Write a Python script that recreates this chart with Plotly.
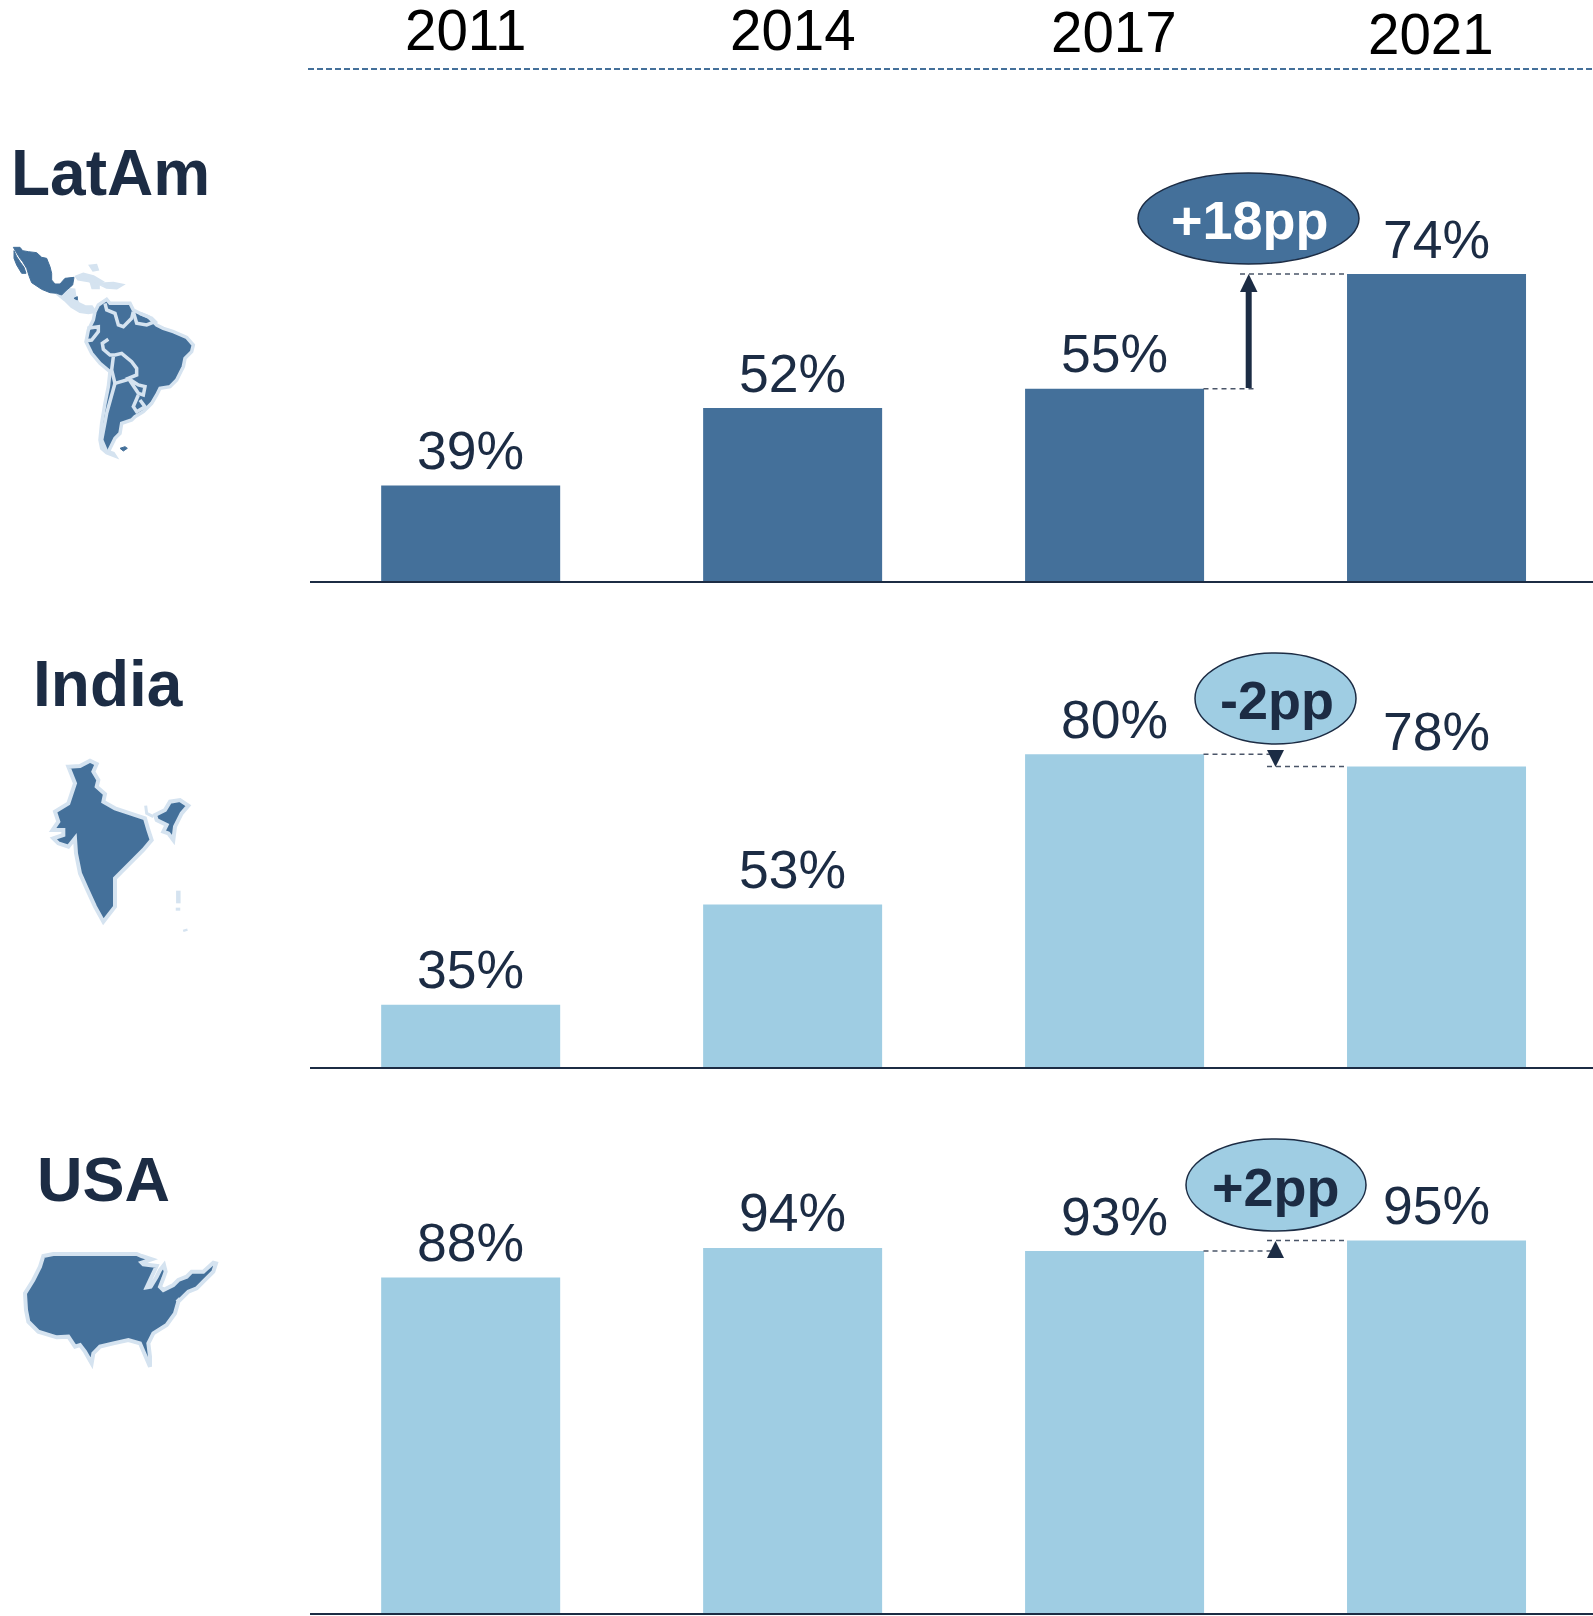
import plotly.graph_objects as go

W, H = 1593, 1616
years = ["2011", "2014", "2017", "2021"]
latam = [39, 51.8, 55, 74]
india = [35, 53, 80, 77.8]
usa = [88, 93.6, 93, 95]

DARK = "#1C2C44"
BLUE = "#44709A"
LIGHT = "#9FCDE3"
PALE = "#D5E3F0"
FONT = "Liberation Sans, Arial, sans-serif"


def X(p):
    return p / W


def Y(p):
    return 1 - p / H


panels = [
    dict(name="LatAm", vals=latam, color=BLUE, top=117, bottom=581, base=23.17),
    dict(name="India", vals=india, color=LIGHT, top=643, bottom=1067.3, base=23.74),
    dict(name="USA", vals=usa, color=LIGHT, top=1214, bottom=1613, base=24.71),
]

fig = go.Figure()
layout = {}
shapes = []
annots = []

for i, p in enumerate(panels):
    s = "" if i == 0 else str(i + 1)
    fig.add_trace(go.Bar(
        x=years, y=p["vals"], xaxis="x" + s, yaxis="y" + s,
        marker=dict(color=p["color"], line=dict(width=0)),
        showlegend=False, hoverinfo="skip",
    ))
    for j, v in enumerate(p["vals"]):
        annots.append(dict(
            text=f"{round(v)}%", x=j, y=v, xref="x" + s, yref="y" + s,
            showarrow=False, xanchor="center", yanchor="middle", yshift=35,
            font=dict(family=FONT, size=53.5, color=DARK),
        ))
    layout["xaxis" + s] = dict(
        domain=[X(309.7), 1], range=[-0.5, 3.486], type="category",
        categoryorder="array", categoryarray=years, anchor="y" + s,
        showticklabels=False, ticks="", showgrid=False, zeroline=False,
        showline=True, linecolor=DARK, linewidth=2,
    )
    layout["yaxis" + s] = dict(
        domain=[Y(p["bottom"]), Y(p["top"])], range=[p["base"], 100],
        anchor="x" + s, visible=False, showgrid=False, zeroline=False,
    )


def text(t, x, y, size, color=DARK, bold=False, height=None):
    annots.append(dict(
        text=f"<b>{t}</b>" if bold else t, x=X(x), y=Y(y), xref="paper", yref="paper",
        showarrow=False, xanchor="center", yanchor="middle", height=height,
        font=dict(family=FONT, size=size, color=color),
    ))


# year header
year_pos = [(466, 30), (793, 30.5), (1114, 32.5), (1431, 34.5)]
for yr, (x, y) in zip(years, year_pos):
    text(yr, x, y, 56.5, color="#000000", height=56)
shapes.append(dict(type="line", xref="paper", yref="paper", x0=X(308), x1=1, y0=Y(69), y1=Y(69),
                   line=dict(color=BLUE, width=2, dash="6px,3px")))

# panel titles
text("LatAm", 110, 173, 64, bold=True)
text("India", 108, 684, 64, bold=True)
text("USA", 103.5, 1179, 63, bold=True)


def dashed(x0, x1, val, yref):
    shapes.append(dict(type="line", xref="paper", yref=yref, x0=X(x0), x1=X(x1), y0=val, y1=val,
                       line=dict(color="#4A5568", width=1.5, dash="5px,4px")))


dashed(1203.5, 1257, latam[2], "y")
dashed(1240, 1347.5, latam[3], "y")
dashed(1203.5, 1284, india[2], "y2")
dashed(1267, 1347.5, india[3], "y2")
dashed(1203.5, 1284, usa[2], "y3")
dashed(1267, 1347.5, usa[3], "y3")


def poly(points, fill=None, color=DARK, width=0):
    d = "M" + " L".join(f"{X(a):.5f},{Y(b):.5f}" for a, b in points) + (" Z" if fill else "")
    shapes.append(dict(type="path", xref="paper", yref="paper", path=d,
                       fillcolor=fill if fill else "rgba(0,0,0,0)",
                       line=dict(color=color, width=width)))


# change arrow (LatAm)
shapes.append(dict(type="line", xref="paper", yref="paper", x0=X(1248.7), x1=X(1248.7),
                   y0=Y(388), y1=Y(288), line=dict(color=DARK, width=6)))
poly([(1248.7, 274), (1257.5, 292), (1240, 292)], fill=DARK)
# change triangles
poly([(1267, 750), (1284, 750), (1275.5, 767)], fill=DARK)
poly([(1275.5, 1241), (1284, 1258), (1267, 1258)], fill=DARK)

# bubbles
for (x0, y0, x1, y1, fill, label, col) in [
    (1138, 173, 1359, 264, BLUE, "+18pp", "#FFFFFF"),
    (1195, 653, 1356, 744, LIGHT, "-2pp", DARK),
    (1186, 1139, 1366, 1231, LIGHT, "+2pp", DARK),
]:
    shapes.append(dict(type="circle", xref="paper", yref="paper", x0=X(x0), x1=X(x1),
                       y0=Y(y0), y1=Y(y1), fillcolor=fill, line=dict(color=DARK, width=1.5)))
    text(label, (x0 + x1) / 2 + (1 if label != "+2pp" else 0), (y0 + y1) / 2 + (2 if label == "+2pp" else 1),
         54, color=col, bold=True)


# decorative map silhouettes, traced in 3x crop coordinates
def crop(points, ox, oy):
    return [(ox + a / 3, oy + b / 3) for a, b in points]


LA = (0, 130)
mexico = [(40, 352), (60, 352), (68, 362), (85, 365), (110, 368), (125, 382), (140, 385), (150, 410), (155, 430),
          (155, 450), (165, 462), (180, 462), (195, 445), (222, 442), (218, 465), (200, 480), (185, 495),
          (170, 490), (150, 488), (125, 478), (95, 458), (88, 440), (80, 415), (68, 395), (60, 385), (52, 372)]
baja = [(42, 362), (50, 380), (62, 398), (72, 412), (78, 430), (65, 430), (50, 405), (42, 385)]
central = [(170, 490), (185, 495), (200, 478), (222, 480), (225, 500), (235, 520), (255, 530), (275, 530),
           (285, 545), (265, 548), (240, 545), (215, 530), (195, 510)]
car1 = [(230, 440), (250, 432), (280, 440), (305, 455), (290, 462), (265, 452), (235, 447)]
car2 = [(272, 408), (288, 406), (292, 418), (280, 420)]
car3 = [(275, 463), (295, 463), (295, 473), (278, 473)]
car4 = [(300, 462), (340, 460), (365, 465), (350, 474), (320, 472)]
south = [(285, 545), (295, 525), (320, 508), (330, 520), (360, 520), (390, 520), (400, 540), (420, 550),
         (445, 560), (470, 585), (490, 595), (520, 605), (560, 622), (580, 645), (575, 665), (555, 685),
         (550, 710), (530, 750), (510, 770), (480, 775), (470, 795), (455, 820), (430, 845), (405, 860),
         (395, 870), (365, 880), (360, 910), (345, 925), (335, 945), (325, 965), (340, 970), (345, 978),
         (320, 968), (305, 955), (300, 930), (305, 880), (315, 820), (325, 770), (330, 725), (300, 700),
         (275, 670), (258, 635), (265, 600), (280, 570)]
falk = [(360, 955), (375, 950), (382, 955), (370, 963)]
borders = [
    [(262, 595), (295, 590), (295, 605), (275, 630), (258, 632)],
    [(325, 628), (307, 640), (310, 658), (330, 675), (345, 675), (365, 670), (395, 695), (410, 715), (410, 735), (385, 745),
     (415, 765), (435, 770), (430, 795), (415, 790), (385, 745)],
    [(315, 520), (320, 540), (345, 550), (355, 585), (370, 590), (395, 565), (400, 545)],
    [(400, 545), (410, 580), (440, 585), (465, 575), (455, 565), (420, 550)],
    [(340, 680), (335, 720), (345, 760), (380, 750), (385, 745)],
    [(345, 760), (320, 850), (305, 930), (320, 965)],
    [(415, 795), (400, 830), (410, 845), (435, 830), (420, 810)],
]
for pts in (car1, car2, car3, car4, central):
    poly(crop(pts, *LA), fill=PALE, color=PALE, width=3)
poly(crop(south, *LA), fill=BLUE, color=PALE, width=3.5)
poly(crop(mexico, *LA), fill=BLUE, color=BLUE, width=1)
poly(crop(baja, *LA), fill=BLUE, color=BLUE, width=1)
poly(crop(falk, *LA), fill=BLUE, color=BLUE, width=1)
poly(crop([(222, 505), (232, 500), (232, 510)], *LA), fill=BLUE, color=BLUE, width=1)
for b in borders:
    poly(crop(b, *LA), color=PALE, width=3.5)

IN = (0, 640)
india_main = [(205, 380), (240, 378), (270, 362), (290, 372), (280, 395), (295, 420), (290, 440), (315, 462),
              (310, 485), (345, 505), (390, 520), (435, 535), (445, 570), (455, 600), (430, 630), (395, 665),
              (345, 715), (345, 800), (310, 845), (285, 800), (260, 745), (240, 700), (228, 640), (225, 595),
              (205, 620), (175, 610), (160, 595), (190, 585), (190, 570), (158, 570), (175, 545), (165, 515),
              (205, 490), (225, 430), (215, 405)]
india_ne = [(465, 525), (495, 510), (510, 485), (540, 480), (565, 497), (545, 520), (525, 560), (520, 600),
            (505, 580), (490, 575), (500, 555), (470, 540)]
poly(crop(india_main, *IN), fill=BLUE, color=PALE, width=4)
poly(crop(india_ne, *IN), fill=BLUE, color=PALE, width=4)
poly(crop([(535, 752), (535, 790)], *IN), color=PALE, width=4.5)
poly(crop([(534, 803), (534, 812)], *IN), color=PALE, width=4.5)
poly(crop([(555, 867), (557, 874)], *IN), color=PALE, width=4.5)
poly(crop([(437, 497), (440, 520), (460, 530)], *IN), color=PALE, width=3)

US = (0, 1130)
usa_main = [(130, 378), (160, 372), (410, 372), (425, 378), (455, 388), (425, 398), (430, 403), (470, 408), (455, 440),
            (440, 472), (452, 470), (470, 440), (480, 420), (492, 405), (497, 425), (490, 445), (480, 470),
            (490, 480), (520, 465), (535, 450), (560, 440), (575, 425), (610, 425), (640, 398),
            (648, 400), (640, 425), (610, 455), (590, 475), (565, 485), (535, 515), (525, 550), (500, 585),
            (460, 610), (445, 640), (450, 680), (450, 710), (435, 675), (420, 640), (385, 630), (340, 640),
            (300, 650), (280, 670), (275, 700), (255, 665), (240, 645), (225, 650), (205, 620), (170, 622),
            (115, 605), (85, 575), (78, 540), (75, 490), (100, 450), (120, 410)]
poly(crop(usa_main, *US), fill=BLUE, color=PALE, width=4)
poly(crop([(530, 515), (540, 505)], *US), color=PALE, width=3)

fig.update_layout(
    width=W, height=H, margin=dict(l=0, r=0, t=0, b=0), autosize=False,
    paper_bgcolor="#FFFFFF", plot_bgcolor="#FFFFFF", bargap=0.444, showlegend=False,
    shapes=shapes, annotations=annots, **layout,
)
fig.write_html("out.html", config=dict(displayModeBar=False),
               post_script="document.body.style.margin='0';document.body.style.overflow='hidden';")
